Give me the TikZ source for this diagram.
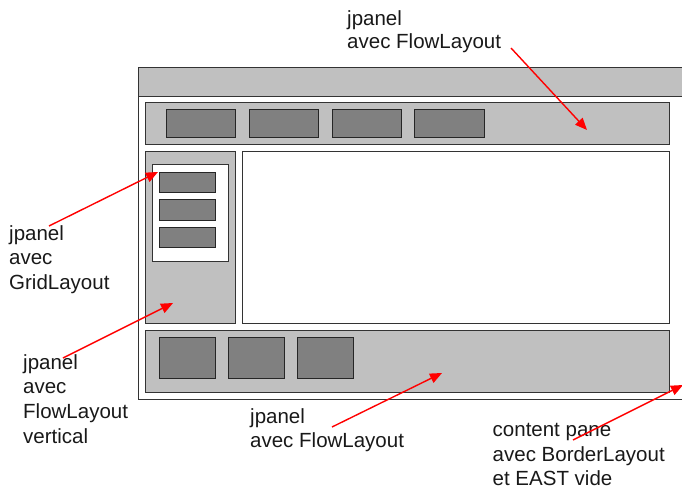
\documentclass[tikz,border=0pt]{standalone}
\usepackage{fontspec}
\setmainfont{Liberation Sans}
\usetikzlibrary{arrows.meta}
\definecolor{lgray}{HTML}{C0C0C0}
\definecolor{dgray}{HTML}{808080}
\definecolor{edge}{HTML}{333333}
\begin{document}
\begin{tikzpicture}[x=1pt,y=-1pt,
  panel/.style={fill=lgray,draw=edge,line width=0.9pt},
  wpanel/.style={fill=white,draw=edge,line width=0.9pt},
  btn/.style={fill=dgray,draw=black!85,line width=0.9pt},
  lbl/.style={anchor=north west,inner sep=0pt,align=left,
    font=\fontsize{20.5}{24.8}\selectfont,text=black!90},
  callout/.style={draw=red,line width=1.4pt,-{Triangle[length=12pt,width=10pt]}}]
\useasboundingbox (0,0) rectangle (682,489);
\clip (0,0) rectangle (682,489);
% frame
\draw[wpanel] (138.5,67.5) rectangle (700,399.5);
\draw[panel] (138.5,67.5) rectangle (700,96);
% top panel
\draw[panel] (145.5,102.5) rectangle (669.5,144);
\draw[btn] (166,109.5) rectangle (235.5,137.5);
\draw[btn] (249,109.5) rectangle (318.5,137.5);
\draw[btn] (332,109.5) rectangle (401.5,137.5);
\draw[btn] (414.5,109.5) rectangle (484,137.5);
% left panel
\draw[panel] (145.5,151) rectangle (235.5,323);
\draw[wpanel] (152.5,164.5) rectangle (228.5,261.5);
\draw[btn] (159.5,172) rectangle (215,192.5);
\draw[btn] (159.5,199.5) rectangle (215,220);
\draw[btn] (159.5,227) rectangle (215,247.5);
% center
\draw[wpanel] (242.5,151) rectangle (669.5,323);
% bottom panel
\draw[panel] (145.5,330.5) rectangle (669.5,392);
\draw[btn] (159.5,337.5) rectangle (215,378.5);
\draw[btn] (228.5,337.5) rectangle (284,378.5);
\draw[btn] (297.5,337.5) rectangle (353,378.5);
% labels
\node[lbl,font=\fontsize{20.5}{23.2}\selectfont] (ltop) at (347,10.5) {jpanel\\avec FlowLayout};
\node[lbl] (lgrid) at (9,225) {jpanel\\avec\\GridLayout};
\node[lbl] (lvert) at (23,354) {jpanel\\avec\\FlowLayout\\vertical};
\node[lbl] (lbot) at (250,408) {jpanel\\avec FlowLayout};
\node[lbl,font=\fontsize{20.5}{24.4}\selectfont] (lcont) at (492.5,423.5) {content pane\\avec BorderLayout\\et EAST vide};
% callout points
\coordinate (s1) at (511,48);   \coordinate (e1) at (587,130);
\coordinate (s2) at (49,226);   \coordinate (e2) at (158,172);
\coordinate (s3) at (63,358);   \coordinate (e3) at (173,303);
\coordinate (s4) at (332,427);  \coordinate (e4) at (442,373);
\coordinate (s5) at (573,440);  \coordinate (e5) at (683,385);
\draw[callout] (s1) -- (e1);
\draw[callout] (s2) -- (e2);
\draw[callout] (s3) -- (e3);
\draw[callout] (s4) -- (e4);
\draw[callout] (s5) -- (e5);
\end{tikzpicture}
\end{document}
